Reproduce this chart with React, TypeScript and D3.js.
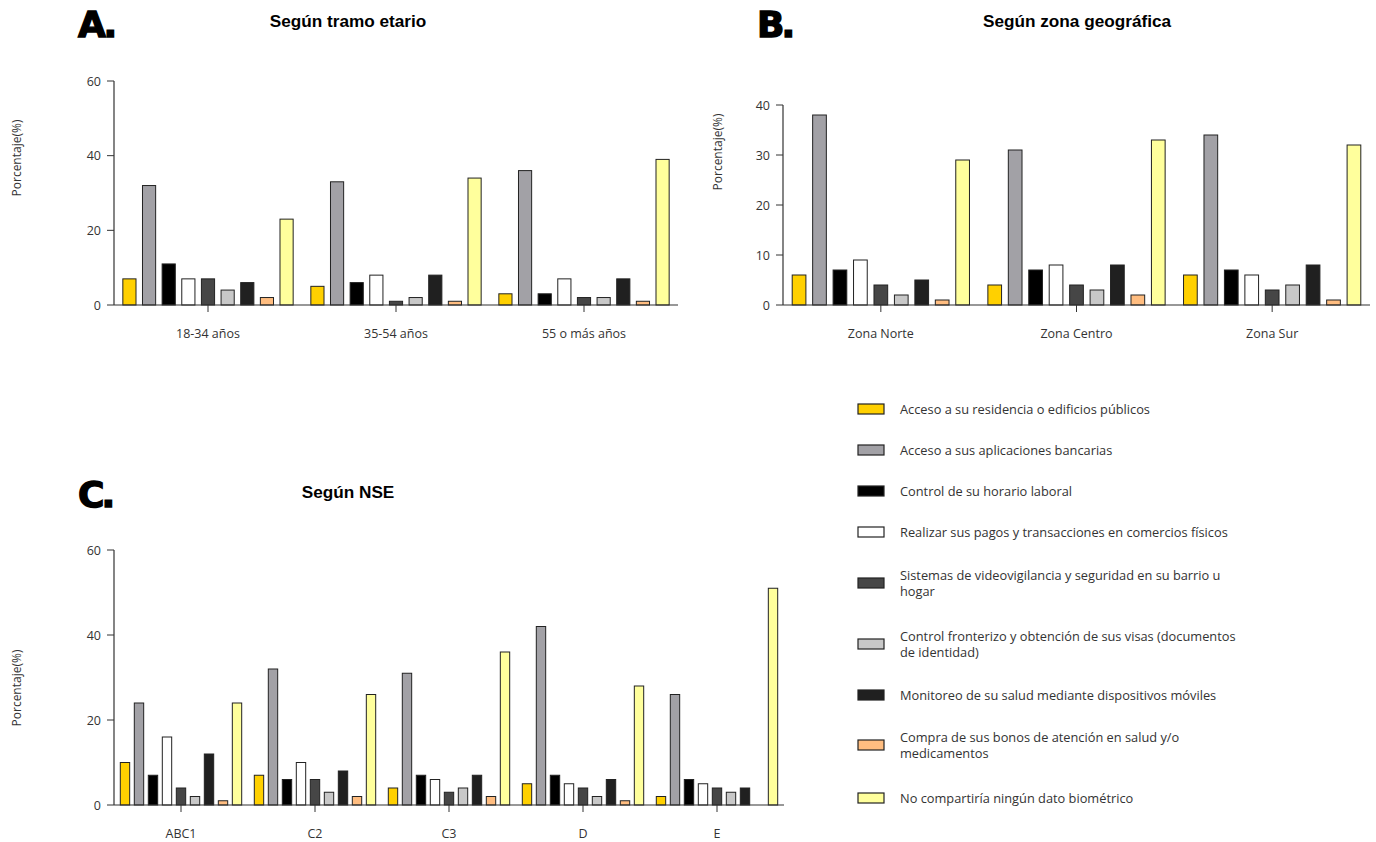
import React from "react";
import * as d3 from "d3";

const seriesNames = [
  "Acceso a su residencia o edificios públicos",
  "Acceso a sus aplicaciones bancarias",
  "Control de su horario laboral",
  "Realizar sus pagos y transacciones en comercios físicos",
  "Sistemas de videovigilancia y seguridad en su barrio u hogar",
  "Control fronterizo y obtención de sus visas (documentos de identidad)",
  "Monitoreo de su salud mediante dispositivos móviles",
  "Compra de sus bonos de atención en salud y/o medicamentos",
  "No compartiría ningún dato biométrico",
];
const legendLines = [
  ["Acceso a su residencia o edificios públicos"],
  ["Acceso a sus aplicaciones bancarias"],
  ["Control de su horario laboral"],
  ["Realizar sus pagos y transacciones en comercios físicos"],
  ["Sistemas de videovigilancia y seguridad en su barrio u", "hogar"],
  ["Control fronterizo y obtención de sus visas (documentos", "de identidad)"],
  ["Monitoreo de su salud mediante dispositivos móviles"],
  ["Compra de sus bonos de atención en salud y/o", "medicamentos"],
  ["No compartiría ningún dato biométrico"],
];
const seriesColors = ["#FFD000", "#A2A1A6", "#000000", "#FFFFFF", "#464646", "#C8C8C8", "#202020", "#FFBD80", "#FFFF9C"];

const ageGroups = ["18-34 años", "35-54 años", "55 o más años"];
const ageValues = [
  [7, 32, 11, 7, 7, 4, 6, 2, 23],
  [5, 33, 6, 8, 1, 2, 8, 1, 34],
  [3, 36, 3, 7, 2, 2, 7, 1, 39],
];
const ageTicks = [0, 20, 40, 60];

const zoneGroups = ["Zona Norte", "Zona Centro", "Zona Sur"];
const zoneValues = [
  [6, 38, 7, 9, 4, 2, 5, 1, 29],
  [4, 31, 7, 8, 4, 3, 8, 2, 33],
  [6, 34, 7, 6, 3, 4, 8, 1, 32],
];
const zoneTicks = [0, 10, 20, 30, 40];

const nseGroups = ["ABC1", "C2", "C3", "D", "E"];
const nseValues = [
  [10, 24, 7, 16, 4, 2, 12, 1, 24],
  [7, 32, 6, 10, 6, 3, 8, 2, 26],
  [4, 31, 7, 6, 3, 4, 7, 2, 36],
  [5, 42, 7, 5, 4, 2, 6, 1, 28],
  [2, 26, 6, 5, 4, 3, 4, 0, 51],
];
const nseTicks = [0, 20, 40, 60];

const FONT = "'Open Sans', Lato, sans-serif";
const TXT = "#333";

type PanelProps = {
  x0: number; x1: number; yTop: number; yBottom: number; yMax: number;
  ticks: number[]; groups: string[]; values: number[][];
  letter: string; letterX: number; letterY: number;
  title: string; titleX: number; titleY: number;
  yLabelX: number; yLabelY: number;
};

function Panel(p: PanelProps) {
  const x = d3.scaleBand<string>().domain(p.groups).range([p.x0, p.x1]).padding(0);
  const inner = d3.scaleBand<number>().domain(d3.range(seriesNames.length))
    .range([0, x.bandwidth()]).paddingInner(0.33).paddingOuter(0.45);
  const y = d3.scaleLinear().domain([0, p.yMax]).range([p.yBottom, p.yTop]);
  return (
    <g>
      <text x={p.letterX} y={p.letterY} fontFamily="'DejaVu Sans', sans-serif" fontWeight={900} fontSize={36}
        fill="#000" stroke="#000" strokeWidth={1.4} style={{ letterSpacing: "-3px" }}>{p.letter}</text>
      <text x={p.titleX} y={p.titleY} textAnchor="middle" fontFamily="'Liberation Sans', Arial, sans-serif"
        fontWeight="bold" fontSize={17.2} fill="#000">{p.title}</text>
      <text transform={`translate(${p.yLabelX},${p.yLabelY}) rotate(-90)`} textAnchor="middle"
        fontFamily={FONT} fontSize={12} fill={TXT}>Porcentaje(%)</text>
      {p.groups.map((g, gi) => (
        <g key={g}>
          {p.values[gi].map((v, si) => {
            if (v <= 0) return null;
            const bx = (x(g) as number) + (inner(si) as number);
            return (
              <rect key={si} x={bx} y={y(v)} width={inner.bandwidth()} height={y(0) - y(v)}
                fill={seriesColors[si]} stroke="#222" strokeWidth={1} />
            );
          })}
          <line x1={(x(g) as number) + x.bandwidth() / 2} x2={(x(g) as number) + x.bandwidth() / 2}
            y1={p.yBottom} y2={p.yBottom + 7} stroke="#333" strokeWidth={1} />
          <text x={(x(g) as number) + x.bandwidth() / 2} y={p.yBottom + 33} textAnchor="middle"
            fontFamily={FONT} fontSize={12.5} fill={TXT}>{g}</text>
        </g>
      ))}
      <line x1={p.x0} x2={p.x1} y1={p.yBottom} y2={p.yBottom} stroke="#333" strokeWidth={1.2} />
      <line x1={p.x0} x2={p.x0} y1={p.yTop} y2={p.yBottom} stroke="#333" strokeWidth={1.2} />
      {p.ticks.map((t) => (
        <g key={t}>
          <line x1={p.x0 - 7} x2={p.x0} y1={y(t)} y2={y(t)} stroke="#333" strokeWidth={1} />
          <text x={p.x0 - 13} y={y(t) + 4.5} textAnchor="end" fontFamily={FONT} fontSize={12.5} fill={TXT}>{t}</text>
        </g>
      ))}
    </g>
  );
}

export default function App() {
  const legendY = [409, 450, 491, 532, 583, 644, 695, 745, 798];
  return (
    <svg width={1376} height={842} style={{ position: "absolute", left: 0, top: 0, background: "#fff" }}>
      <Panel x0={114} x1={678} yTop={81} yBottom={305} yMax={60} ticks={ageTicks}
        groups={ageGroups} values={ageValues} letter="A." letterX={78} letterY={37}
        title="Según tramo etario" titleX={348} titleY={27} yLabelX={21} yLabelY={158} />
      <Panel x0={783} x1={1370} yTop={105} yBottom={305} yMax={40} ticks={zoneTicks}
        groups={zoneGroups} values={zoneValues} letter="B." letterX={757} letterY={37}
        title="Según zona geográfica" titleX={1077} titleY={27} yLabelX={722} yLabelY={152} />
      <Panel x0={114} x1={784} yTop={550} yBottom={805} yMax={60} ticks={nseTicks}
        groups={nseGroups} values={nseValues} letter="C." letterX={78} letterY={507}
        title="Según NSE" titleX={348} titleY={498} yLabelX={21} yLabelY={688} />
      {seriesNames.map((s, i) => {
        const lines = legendLines[i];
        const cy = legendY[i];
        return (
          <g key={s}>
            <rect x={858} y={cy - 5} width={26} height={10} fill={seriesColors[i]} stroke="#222" strokeWidth={1.2} />
            {lines.map((l, li) => (
              <text key={li} x={900} y={cy + 4.5 + (li - (lines.length - 1) / 2) * 16}
                fontFamily={FONT} fontSize={12.8} fill={TXT}>{l}</text>
            ))}
          </g>
        );
      })}
    </svg>
  );
}
